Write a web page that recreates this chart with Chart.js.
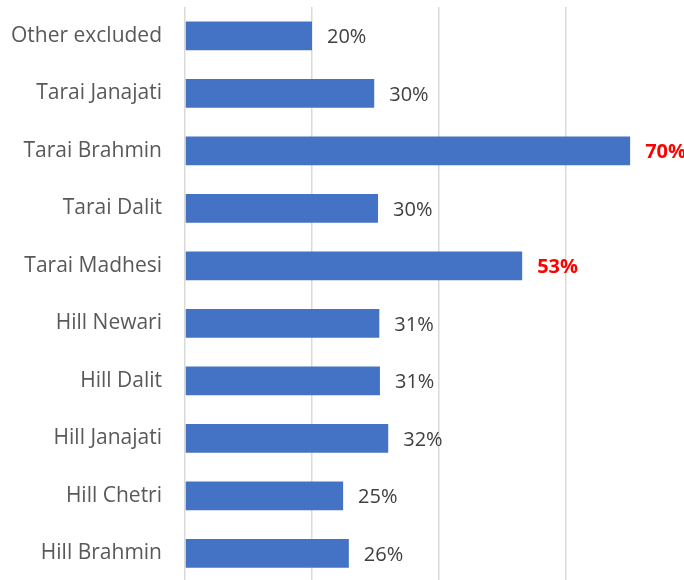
<!DOCTYPE html>
<html><head><meta charset="utf-8">
<script src="https://cdn.jsdelivr.net/npm/chart.js@4.4.0/dist/chart.umd.min.js"></script>
<style>
html,body{margin:0;padding:0;overflow:hidden;background:#fff;width:684px;height:580px;}
#wrap{width:700px;height:582px;position:relative;}
</style></head><body>
<div id="wrap"><canvas id="c" width="700" height="582"></canvas></div>
<script>
const categories = ["Other excluded","Tarai Janajati","Tarai Brahmin","Tarai Dalit","Tarai Madhesi","Hill Newari","Hill Dalit","Hill Janajati","Hill Chetri","Hill Brahmin"];
const values = [20, 29.8, 70.1, 30.4, 53.1, 30.6, 30.7, 32, 24.9, 25.8];
const highlighted = ["Tarai Brahmin","Tarai Madhesi"];
const xMax = 80;
const FONT = "Open Sans";

const labelPlugin = {
  id: 'valLabels',
  afterDatasetsDraw(chart){
    const ctx = chart.ctx;
    const meta = chart.getDatasetMeta(0);
    ctx.save();
    ctx.textBaseline = 'middle';
    ctx.textAlign = 'left';
    meta.data.forEach((bar, i) => {
      const hi = highlighted.includes(categories[i]);
      ctx.font = (hi ? 'bold ' : '') + '20px "' + FONT + '"';
      ctx.fillStyle = hi ? '#FF0000' : '#404040';
      ctx.fillText(Math.round(values[i]) + '%', bar.x + 15, bar.y + 2);
    });
    ctx.restore();
  }
};

new Chart(document.getElementById('c'), {
  type: 'bar',
  data: { labels: categories, datasets: [{ data: values, backgroundColor: '#4472C4', borderWidth: 0, categoryPercentage: 0.5, barPercentage: 1 }] },
  options: {
    indexAxis: 'y', responsive: false, animation: false,
    layout: { padding: { top: 7, right: 7, bottom: 0, left: 0 } },
    plugins: { legend: { display: false }, tooltip: { enabled: false } },
    scales: {
      x: { min: 0, max: xMax, ticks: { display: false, stepSize: 20 },
           grid: { color: '#d9d9d9', lineWidth: 1.5, drawTicks: false },
           border: { display: false },
           afterFit(s){ s.height = 0; s.paddingLeft = 0; s.paddingRight = 0; } },
      y: { grid: { display: false, drawTicks: false }, border: { display: false },
           ticks: { color: '#595959', font: { family: FONT, size: 21 }, padding: 23 },
           afterFit(s){ s.width = 185; s.paddingTop = 0; s.paddingBottom = 0; } }
    }
  },
  plugins: [labelPlugin]
});
</script></body></html>
